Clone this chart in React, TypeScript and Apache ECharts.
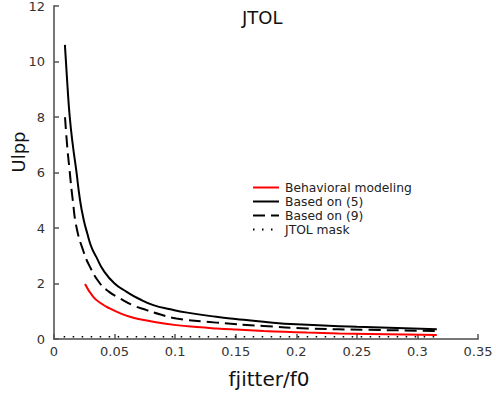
import React, { useEffect, useRef } from "react";
import * as echarts from "echarts";

const seriesNames = ["Behavioral modeling", "Based on (5)", "Based on (9)", "JTOL mask"];

const behavioral: [number, number][] = [
  [0.0256, 1.98], [0.0324, 1.52], [0.039, 1.28], [0.046, 1.1], [0.054, 0.94], [0.0627, 0.8],
  [0.072, 0.7], [0.082, 0.62], [0.101, 0.5], [0.118, 0.43], [0.134, 0.38], [0.15, 0.34],
  [0.173, 0.29], [0.19, 0.26], [0.209, 0.23], [0.235, 0.2], [0.26, 0.18], [0.29, 0.16], [0.316, 0.14],
];

const basedOn5: [number, number][] = [
  [0.009, 10.6], [0.011, 9.2], [0.013, 8.0], [0.0155, 7.0], [0.0183, 6.1], [0.0215, 5.0],
  [0.0245, 4.3], [0.0275, 3.8], [0.031, 3.3], [0.035, 2.95], [0.0407, 2.48], [0.05, 2.0],
  [0.06, 1.7], [0.07, 1.45], [0.082, 1.22], [0.096, 1.07], [0.11, 0.95], [0.134, 0.8],
  [0.15, 0.72], [0.173, 0.62], [0.2, 0.53], [0.25, 0.44], [0.316, 0.35],
];

const basedOn9: [number, number][] = [
  [0.0091, 7.99], [0.0108, 7.0], [0.0126, 6.19], [0.0155, 5.0], [0.0187, 4.0], [0.024, 3.2],
  [0.0297, 2.6], [0.038, 2.0], [0.0455, 1.7], [0.0545, 1.46], [0.065, 1.22], [0.0765, 1.04],
  [0.088, 0.88], [0.101, 0.74], [0.134, 0.59], [0.173, 0.47], [0.209, 0.38], [0.26, 0.33], [0.316, 0.29],
];

const jtolMask: [number, number][] = [
  [0.008, 0.08], [0.316, 0.08],
];

const yAxisTitle = "Ulpp";

const FONT = "DejaVu Sans";

export default function App() {
  const ref = useRef<HTMLDivElement>(null);
  useEffect(() => {
    if (!ref.current) return;
    const chart = echarts.init(ref.current, null, { renderer: "svg" });
    chart.setOption({
      animation: false,
      backgroundColor: "#ffffff",
      title: {
        text: "JTOL",
        left: 237,
        top: 3,
        textStyle: { fontFamily: FONT, fontSize: 18, fontWeight: "normal", color: "#111" },
      },
      graphic: [
        {
          type: "text",
          x: 18,
          y: 152,
          rotation: Math.PI / 2,
          style: {
            text: yAxisTitle,
            fontFamily: FONT,
            fontSize: 18,
            fill: "#111",
            align: "center",
            verticalAlign: "middle",
          },
        },
      ],
      legend: {
        orient: "vertical",
        left: 247,
        top: 176,
        itemWidth: 26,
        itemHeight: 10,
        itemGap: 1,
        data: seriesNames,
        itemStyle: { opacity: 0 },
        textStyle: { fontFamily: FONT, fontSize: 12.3, lineHeight: 13, color: "#222", padding: [0, 0, 0, 1] },
      },
      grid: { left: 54, right: 18, top: 6, bottom: 54, containLabel: false, outerBoundsMode: "none" },
      xAxis: {
        type: "value",
        min: 0,
        max: 0.35,
        interval: 0.05,
        name: "fjitter/f0",
        nameLocation: "middle",
        nameGap: 30,
        nameTextStyle: { fontFamily: FONT, fontSize: 20, color: "#111", padding: [0, 0, 0, 6] },
        axisLine: { lineStyle: { color: "#777", width: 2 } },
        axisTick: { inside: true, length: 5, lineStyle: { color: "#555", width: 1.5 } },
        axisLabel: { fontFamily: FONT, fontSize: 13, color: "#333", margin: 6 },
        splitLine: { show: false },
      },
      yAxis: {
        type: "value",
        min: 0,
        max: 12,
        interval: 2,
        axisLine: { lineStyle: { color: "#777", width: 2 } },
        axisTick: { inside: true, length: 5, lineStyle: { color: "#555", width: 1.5 } },
        axisLabel: { fontFamily: FONT, fontSize: 13, color: "#333", margin: 9 },
        splitLine: { show: false },
      },
      series: [
        {
          name: seriesNames[0],
          type: "line",
          data: behavioral,
          symbol: "none",
          smooth: true,
          lineStyle: { color: "#ff0000", width: 2 },
          itemStyle: { color: "#ff0000" },
        },
        {
          name: seriesNames[1],
          type: "line",
          data: basedOn5,
          symbol: "none",
          smooth: true,
          lineStyle: { color: "#000", width: 2 },
          itemStyle: { color: "#000" },
        },
        {
          name: seriesNames[2],
          type: "line",
          data: basedOn9,
          symbol: "none",
          smooth: true,
          lineStyle: { color: "#000", width: 2, type: [12, 6] },
          itemStyle: { color: "#000" },
        },
        {
          name: seriesNames[3],
          type: "line",
          data: jtolMask,
          symbol: "none",
          lineStyle: { color: "#000", width: 1.5, type: [1.5, 7.5] },
          itemStyle: { color: "#000" },
        },
      ],
    });
    return () => chart.dispose();
  }, []);
  return <div ref={ref} style={{ width: 496, height: 393, position: "absolute", left: 0, top: 0 }} />;
}
